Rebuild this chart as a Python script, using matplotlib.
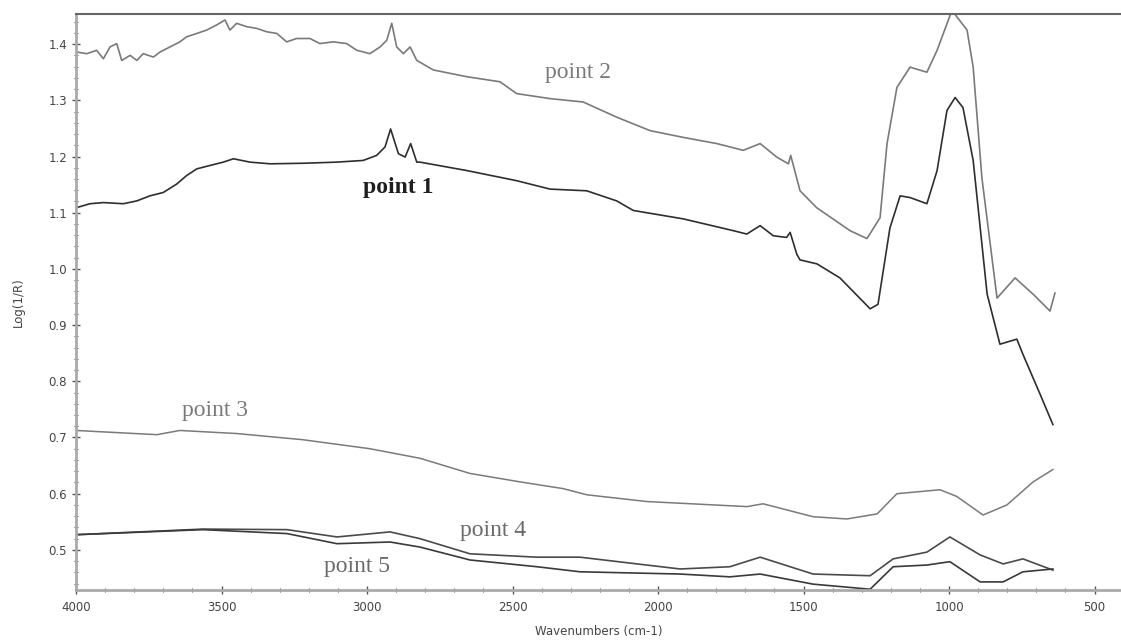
import matplotlib
matplotlib.use("Agg")
import matplotlib.pyplot as plt
from matplotlib.ticker import MultipleLocator

# ---- data ----
p1_w = [3998, 3952, 3906, 3837, 3791, 3746, 3700, 3654, 3620, 3585, 3540, 3494, 3459, 3402, 3333,
        3219, 3104, 3013, 2967, 2938, 2919, 2892, 2869, 2850, 2829, 2818, 2657, 2486, 2371, 2245,
        2142, 2085, 1913, 1741, 1695, 1649, 1604, 1558, 1546, 1523, 1512, 1454, 1375, 1271, 1244,
        1203, 1168, 1134, 1076, 1041, 1007, 979, 952, 917, 869, 825, 767, 746, 687, 643]
p1_v = [1.109, 1.116, 1.118, 1.116, 1.121, 1.130, 1.136, 1.151, 1.166, 1.178, 1.184, 1.190, 1.196,
        1.190, 1.187, 1.188, 1.190, 1.193, 1.202, 1.217, 1.249, 1.205, 1.199, 1.223, 1.190, 1.190,
        1.175, 1.157, 1.142, 1.139, 1.121, 1.104, 1.089, 1.068, 1.062, 1.077, 1.059, 1.056, 1.065,
        1.026, 1.016, 1.009, 0.984, 0.929, 0.937, 1.073, 1.130, 1.127, 1.116, 1.175, 1.282, 1.305,
        1.287, 1.193, 0.955, 0.866, 0.875, 0.848, 0.777, 0.723]

p2_w = [3998, 3963, 3929, 3906, 3883, 3860, 3843, 3814, 3791, 3769, 3734, 3711, 3677, 3643, 3620,
        3585, 3551, 3517, 3488, 3471, 3448, 3413, 3379, 3345, 3310, 3276, 3242, 3196, 3162, 3116,
        3070, 3035, 2990, 2955, 2932, 2915, 2898, 2875, 2852, 2829, 2772, 2657, 2543, 2486, 2371,
        2257, 2142, 2027, 1913, 1798, 1707, 1649, 1592, 1552, 1544, 1512, 1455, 1340, 1282, 1237,
        1213, 1179, 1134, 1076, 1041, 990, 938, 917, 887, 835, 773, 711, 653, 636]
p2_v = [1.386, 1.383, 1.389, 1.374, 1.395, 1.401, 1.371, 1.380, 1.371, 1.383, 1.377, 1.386, 1.395,
        1.404, 1.413, 1.419, 1.425, 1.434, 1.443, 1.425, 1.437, 1.431, 1.428, 1.422, 1.419, 1.404,
        1.410, 1.410, 1.401, 1.404, 1.401, 1.389, 1.383, 1.395, 1.407, 1.437, 1.395, 1.383, 1.395,
        1.371, 1.354, 1.342, 1.333, 1.312, 1.303, 1.297, 1.270, 1.246, 1.234, 1.223, 1.211, 1.223,
        1.199, 1.187, 1.202, 1.139, 1.109, 1.068, 1.054, 1.091, 1.223, 1.323, 1.359, 1.350, 1.389,
        1.460, 1.425, 1.359, 1.162, 0.948, 0.984, 0.955, 0.925, 0.957]

p3_w = [4000, 3722, 3643, 3447, 3220, 2990, 2818, 2646, 2474, 2326, 2244, 2038, 1694, 1639, 1467,
        1351, 1247, 1179, 1031, 973, 883, 801, 711, 643]
p3_v = [0.7125, 0.705, 0.7125, 0.707, 0.696, 0.680, 0.663, 0.636, 0.621, 0.609, 0.598, 0.586,
        0.577, 0.582, 0.559, 0.555, 0.564, 0.600, 0.607, 0.595, 0.562, 0.580, 0.621, 0.643]

p45_w = [4000, 3564, 3275, 3103, 2921, 2818, 2646, 2416, 2268, 1924, 1753, 1649, 1467, 1271, 1192,
         1076, 997, 893, 814, 746, 643]
p4_v = [0.527, 0.537, 0.536, 0.523, 0.532, 0.520, 0.493, 0.487, 0.487, 0.466, 0.470, 0.487, 0.457,
        0.454, 0.484, 0.496, 0.523, 0.491, 0.475, 0.484, 0.464]
p5_v = [0.527, 0.536, 0.529, 0.511, 0.514, 0.505, 0.482, 0.470, 0.461, 0.457, 0.452, 0.457, 0.439,
        0.430, 0.470, 0.473, 0.479, 0.443, 0.443, 0.461, 0.466]

labels = ["point 1", "point 2", "point 3", "point 4", "point 5"]
x_ticks = [4000, 3500, 3000, 2500, 2000, 1500, 1000, 500]
y_ticks = [0.5, 0.6, 0.7, 0.8, 0.9, 1.0, 1.1, 1.2, 1.3, 1.4]

# ---- figure ----
W, H = 1121, 644
fig = plt.figure(figsize=(W / 100, H / 100), dpi=100)
ax = fig.add_axes([76 / W, 1 - 590 / H, 1 - 76 / W, (590 - 14) / H])

ax.plot(p2_w, p2_v, color="#7a7a7a", lw=1.2)
ax.plot(p1_w, p1_v, color="#2e2e2e", lw=1.2)
ax.plot(p3_w, p3_v, color="#7a7a7a", lw=1.1)
ax.plot(p45_w, p4_v, color="#4a4a4a", lw=1.2)
ax.plot(p45_w, p5_v, color="#3a3a3a", lw=1.2)

ax.set_xlim(4000, 409)
ax.set_ylim(0.4286, 1.4536)
ax.set_xticks(x_ticks)
ax.set_xticklabels([str(t) for t in x_ticks])
ax.set_yticks(y_ticks)
ax.set_yticklabels([f"{t:.1f}" for t in y_ticks])
ax.xaxis.set_minor_locator(MultipleLocator(100))
ax.yaxis.set_minor_locator(MultipleLocator(0.02))

tick_c = "#555555"
ax.tick_params(axis="both", which="major", direction="inout", length=6, width=1, color=tick_c,
               labelsize=8.5, labelcolor="#444444")
ax.tick_params(axis="both", which="minor", direction="inout", length=3, width=0.8, color=tick_c)
ax.tick_params(axis="x", pad=5)

for s in ["left", "bottom"]:
    ax.spines[s].set_color("#aaaaaa")
    ax.spines[s].set_linewidth(2)
ax.spines["top"].set_color("#666666")
ax.spines["top"].set_linewidth(1.5)
ax.spines["right"].set_visible(False)

ax.set_xlabel("Wavenumbers (cm-1)", fontsize=8.5, color="#444444", labelpad=8)
ax.set_ylabel("Log(1/R)", fontsize=8.5, color="#444444", labelpad=17)

serif = ["Liberation Serif", "DejaVu Serif"]
fs = 17
ax.text(2893, 1.145, labels[0], family=serif, fontsize=fs, color="#1e1e1e", ha="center", va="center",
        fontweight="bold")
ax.text(2275, 1.350, labels[1], family=serif, fontsize=fs, color="#7a7a7a", ha="center", va="center")
ax.text(3522, 0.748, labels[2], family=serif, fontsize=fs, color="#7a7a7a", ha="center", va="center")
ax.text(2567, 0.534, labels[3], family=serif, fontsize=fs, color="#6a6a6a", ha="center", va="center")
ax.text(3034, 0.471, labels[4], family=serif, fontsize=fs, color="#6a6a6a", ha="center", va="center")

fig.savefig("out.png", dpi=100)
